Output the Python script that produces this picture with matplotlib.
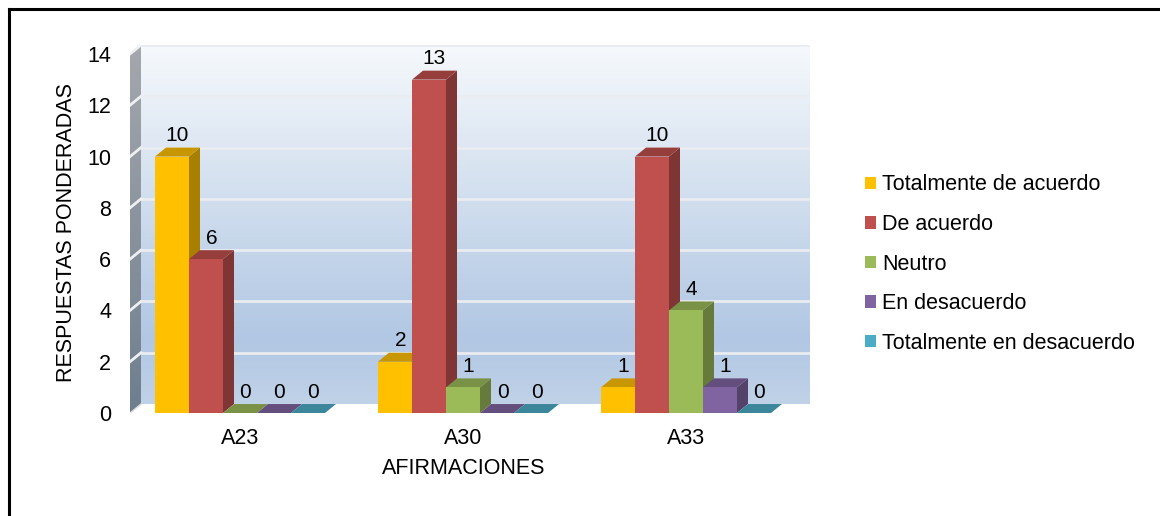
import numpy as np
import matplotlib
matplotlib.use("Agg")
import matplotlib.pyplot as plt
from matplotlib.patches import Polygon, Patch
from matplotlib.lines import Line2D
from matplotlib.colors import to_rgb

plt.rcParams['font.family'] = ['Liberation Sans', 'DejaVu Sans']

# Data
categories = ["A23", "A30", "A33"]
series_names = ["Totalmente de acuerdo", "De acuerdo", "Neutro",
                "En desacuerdo", "Totalmente en desacuerdo"]
totalmente_de_acuerdo = [10, 2, 1]
de_acuerdo = [6, 13, 10]
neutro = [0, 1, 4]
en_desacuerdo = [0, 0, 1]
totalmente_en_desacuerdo = [0, 0, 0]
series_values = [totalmente_de_acuerdo, de_acuerdo, neutro,
                 en_desacuerdo, totalmente_en_desacuerdo]
y_ticks = [0, 2, 4, 6, 8, 10, 12, 14]

colors = ['#FFC000', '#C0504D', '#9BBB59', '#8064A2', '#4BACC6']

FS = 15.5


def shade(c, f):
    r, g, b = to_rgb(c)
    return (r * f, g * f, b * f)


W, H = 1160, 516
fig = plt.figure(figsize=(W / 100, H / 100), dpi=100)
fig.patch.set_facecolor('white')

# plot area (pixel box of the chart region)
left_px, right_px, bottom_px, top_px = 130, 810, 413, 45
ax = fig.add_axes([left_px / W, 1 - bottom_px / H,
                   (right_px - left_px) / W, (bottom_px - top_px) / H])

x_left = (left_px - 240) / 223
x_right = (right_px - 240) / 223
dx = 11 / 223      # depth offset along x
dy = 0.35          # depth offset along y
ymax = 14
ax.set_xlim(x_left, x_right)
ax.set_ylim(0, ymax + dy)
for s in ax.spines.values():
    s.set_visible(False)
ax.set_facecolor('none')

# back wall gradient
stops = np.array([0.0, 0.5, 0.82, 1.0])
cols = np.array([(246, 249, 252), (203, 218, 236), (177, 199, 227), (192, 210, 232)]) / 255
t = np.linspace(0, 1, 256)
grad = np.stack([np.interp(t, stops, cols[:, i]) for i in range(3)], axis=-1)[:, None, :]
ax.imshow(grad, extent=[x_left + dx, x_right, dy, ymax + dy], aspect='auto',
          origin='upper', zorder=0, interpolation='bilinear')

# side wall gradient (clipped to a parallelogram)
side_cols = np.array([(165, 168, 173), (110, 126, 142)]) / 255
sgrad = np.stack([np.interp(t, [0, 1], side_cols[:, i]) for i in range(3)], axis=-1)[:, None, :]
side_poly = Polygon([(x_left, 0), (x_left + dx, dy), (x_left + dx, ymax + dy), (x_left, ymax)],
                    closed=True, facecolor='none', edgecolor='none')
ax.add_patch(side_poly)
im = ax.imshow(sgrad, extent=[x_left, x_left + dx, 0, ymax + dy], aspect='auto',
               origin='upper', zorder=0.5, interpolation='bilinear')
im.set_clip_path(side_poly)

# floor edge
ax.plot([x_left, x_left + dx], [0, dy], color='#d8d8d8', lw=1, zorder=0.6)

# gridlines on back and side walls
for v in y_ticks:
    if v == 0:
        continue
    ax.plot([x_left + dx, x_right], [v + dy, v + dy], color='#e9ecf0', lw=2,
            zorder=0.7, solid_capstyle='butt')
    ax.plot([x_left, x_left + dx], [v, v + dy], color='#eef0f2', lw=2, zorder=0.7)

# bars with depth faces
w = 34 / 223
n = len(series_values)
x = np.arange(len(categories))
z = 2
for i in range(len(categories)):
    for k in range(n):
        v = series_values[k][i]
        xl = x[i] + (k - n / 2) * w
        c = colors[k]
        # right side face
        ax.add_patch(Polygon([(xl + w, 0), (xl + w + dx, dy), (xl + w + dx, v + dy), (xl + w, v)],
                             closed=True, facecolor=shade(c, 0.66), edgecolor='none', zorder=z))
        # top face
        ax.add_patch(Polygon([(xl, v), (xl + w, v), (xl + w + dx, v + dy), (xl + dx, v + dy)],
                             closed=True, facecolor=shade(c, 0.78), edgecolor='none', zorder=z))
        # front face
        ax.bar(xl, v, width=w, align='edge', color=c, edgecolor='none', zorder=z + 0.5)
        ax.text(xl + w / 2 + dx / 2, v + dy + 0.25, f"{v}", ha='center', va='baseline',
                fontsize=15, color='black', zorder=10)
        z += 1

ax.set_xticks(x)
ax.set_xticklabels(categories, fontsize=FS)
ax.set_yticks(y_ticks)
ax.set_yticklabels([str(v) for v in y_ticks], fontsize=FS)
ax.tick_params(axis='both', length=0)
ax.tick_params(axis='y', pad=13.5)
ax.tick_params(axis='x', pad=11)

fig.text(464 / W, 1 - 469 / H, "AFIRMACIONES", ha='center', va='center', fontsize=FS)
fig.text(67 / W, 1 - 233 / H, "RESPUESTAS PONDERADAS", ha='center', va='center',
         rotation=90, fontsize=FS)

handles = [Patch(facecolor=c, edgecolor='none') for c in colors]
fig.legend(handles, series_names, loc='center left', bbox_to_anchor=(865 / W, 1 - 264 / H),
           frameon=False, fontsize=FS, handlelength=0.51, handleheight=0.51,
           handletextpad=0.28, labelspacing=0.86, borderpad=0, borderaxespad=0)

# outer frame (top and left edges)
fig.add_artist(Line2D([9 / W, 1], [1 - 9 / H, 1 - 9 / H], transform=fig.transFigure,
                      color='black', lw=2.2))
fig.add_artist(Line2D([9 / W, 9 / W], [0, 1 - 9 / H], transform=fig.transFigure,
                      color='black', lw=2.2))

fig.savefig("out.png", dpi=100, facecolor='white')
